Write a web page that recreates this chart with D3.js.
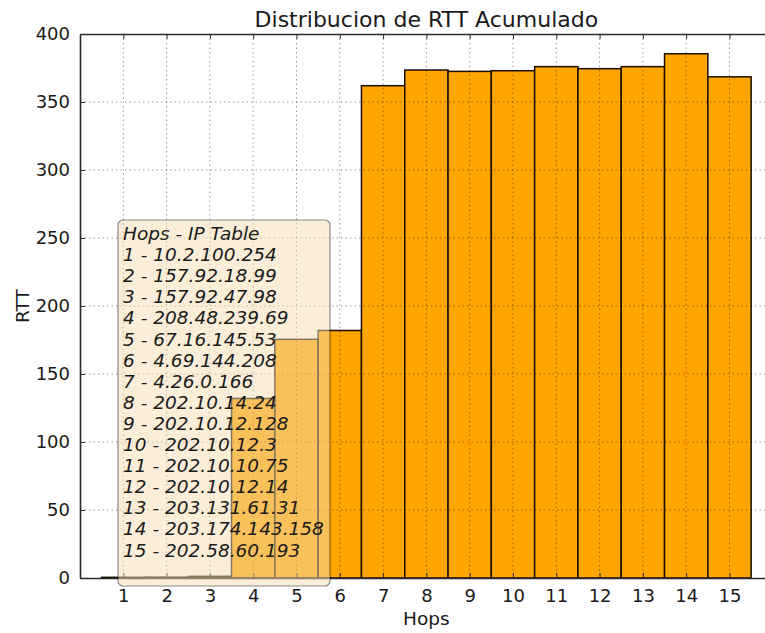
<!DOCTYPE html>
<html>
<head>
<meta charset="utf-8">
<script src="https://cdn.jsdelivr.net/npm/d3@7"></script>
<style>
  body { margin: 0; background: #fff; }
  svg { display: block; font-family: "DejaVu Sans", sans-serif; }
</style>
</head>
<body>
<div id="chart"></div>
<script>
(function (d3) {
    'use strict';
    // data
    var hops = [1, 2, 3, 4, 5, 6, 7, 8, 9, 10, 11, 12, 13, 14, 15];
    var rtt = [0.5, 0.6, 1.2, 132, 175.5, 182, 362, 373.5, 372.5, 373, 376, 374.5, 376, 385.5, 368.5];
    var ips = ["10.2.100.254", "157.92.18.99", "157.92.47.98", "208.48.239.69", "67.16.145.53",
        "4.69.144.208", "4.26.0.166", "202.10.14.24", "202.10.12.128", "202.10.12.3",
        "202.10.10.75", "202.10.12.14", "203.131.61.31", "203.174.143.158", "202.58.60.193"];
    var yTicks = [0, 50, 100, 150, 200, 250, 300, 350, 400];

    var svgWidth = 765;
    var svgHeight = 633;
    var left = 80, top = 34, bottom = 578;

    var svg = d3.select("#chart")
        .append("svg")
        .attr("width", svgWidth)
        .attr("height", svgHeight);

    // scales: x runs 0..16 (right side is cropped by the picture)
    var x = d3.scaleLinear().domain([0, 16]).range([left, left + 16 * 43.3]);
    var y = d3.scaleLinear().domain([0, 400]).range([bottom, top]);

    // title
    svg.append("text")
        .attr("x", (left + x(16)) / 2)
        .attr("y", 27)
        .attr("text-anchor", "middle")
        .attr("font-size", 22)
        .attr("fill", "#1a1a1a")
        .text("Distribucion de RTT Acumulado");

    // bars
    svg.append("g").selectAll("rect")
        .data(hops)
        .enter()
        .append("rect")
        .attr("x", function (d) { return x(d - 0.5); })
        .attr("y", function (d, i) { return y(rtt[i]); })
        .attr("width", x(1) - x(0))
        .attr("height", function (d, i) { return y(0) - y(rtt[i]); })
        .attr("fill", "#ffa500")
        .attr("stroke", "#1a0d00")
        .attr("stroke-width", 1.5);

    // grid (drawn over the bars like matplotlib does)
    var grid = svg.append("g")
        .attr("stroke", "#000")
        .attr("stroke-opacity", 0.4)
        .attr("stroke-width", 1)
        .attr("stroke-dasharray", "1.5,3");
    grid.selectAll(".gx")
        .data(hops)
        .enter()
        .append("line")
        .attr("x1", function (d) { return x(d); })
        .attr("x2", function (d) { return x(d); })
        .attr("y1", top)
        .attr("y2", bottom);
    grid.selectAll(".gy")
        .data(yTicks.slice(1, -1))
        .enter()
        .append("line")
        .attr("x1", left)
        .attr("x2", svgWidth)
        .attr("y1", function (d) { return y(d); })
        .attr("y2", function (d) { return y(d); });

    // axes: ticks inside, like the classic matplotlib style
    var xBottom = d3.axisBottom(x).tickValues(hops).tickSizeInner(-5).tickSizeOuter(0).tickPadding(11);
    var xTop = d3.axisTop(x).tickValues(hops).tickSizeInner(-5).tickSizeOuter(0).tickFormat("");
    var yLeft = d3.axisLeft(y).tickValues(yTicks).tickSizeInner(-5).tickSizeOuter(0).tickPadding(10);

    function styleAxis(g) {
        g.select(".domain").attr("stroke", "#2a2a2a").attr("stroke-width", 1.6);
        g.selectAll(".tick line").attr("stroke", "#2a2a2a").attr("stroke-width", 1);
        g.selectAll(".tick text").attr("font-size", 18).attr("fill", "#1a1a1a")
            .attr("font-family", "DejaVu Sans, sans-serif");
    }

    svg.append("g")
        .attr("transform", "translate(0," + bottom + ")")
        .call(xBottom)
        .call(styleAxis);
    svg.append("g")
        .attr("transform", "translate(0," + top + ")")
        .call(xTop)
        .call(styleAxis);
    svg.append("g")
        .attr("transform", "translate(" + left + ",0)")
        .call(yLeft)
        .call(styleAxis);

    // axis labels
    svg.append("text")
        .attr("x", (left + x(16)) / 2)
        .attr("y", 625)
        .attr("text-anchor", "middle")
        .attr("font-size", 18.5)
        .attr("fill", "#1a1a1a")
        .text("Hops");
    svg.append("text")
        .attr("transform", "translate(29," + ((top + bottom) / 2) + ") rotate(-90)")
        .attr("text-anchor", "middle")
        .attr("font-size", 18.5)
        .attr("fill", "#1a1a1a")
        .text("RTT");

    // Hops - IP table box
    var box = svg.append("g");
    box.append("rect")
        .attr("x", 118)
        .attr("y", 220)
        .attr("width", 212)
        .attr("height", 366)
        .attr("rx", 5)
        .attr("fill", "#f5deb3")
        .attr("fill-opacity", 0.5)
        .attr("stroke", "#000")
        .attr("stroke-opacity", 0.45)
        .attr("stroke-width", 1.2);

    var lines = ["Hops - IP Table"].concat(hops.map(function (h, i) { return h + " - " + ips[i]; }));
    box.selectAll("text")
        .data(lines)
        .enter()
        .append("text")
        .attr("x", 123)
        .attr("y", function (d, i) { return 240 + i * 21.1; })
        .attr("font-size", 18.5)
        .attr("font-style", "italic")
        .attr("fill", "#1a1a1a")
        .text(function (d) { return d; });
})(window.d3);
</script>
</body>
</html>
